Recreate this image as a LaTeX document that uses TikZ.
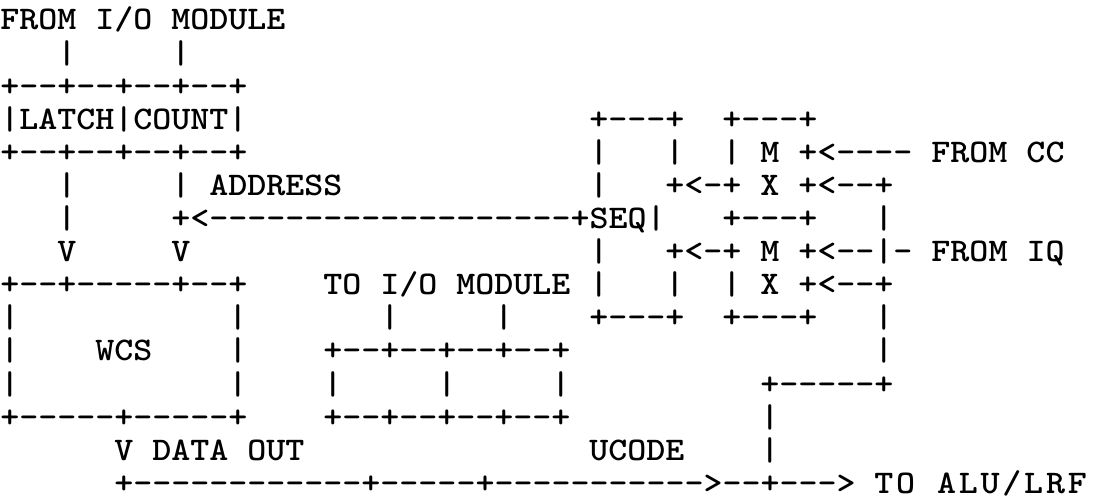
\documentclass[tikz,border=0pt]{standalone}
\usepackage{fontspec}
\setmonofont{lmmonolt10-bold.otf}[FakeStretch=1.097]

\begin{document}
\begin{tikzpicture}[
x=9.5pt, y=-16.55pt,
ascii/.style={anchor=base west, inner sep=0pt, font=\ttfamily\fontsize{16.5pt}{16.7pt}\selectfont},
wide/.style={ascii, font=\ttfamily\fontsize{16.5pt}{16.7pt}\selectfont\addfontfeature{LetterSpace=8.5}}
]
\useasboundingbox (0,0.094) rectangle (57.79,15.29);
% latch and count registers
\node[ascii] (fromio) at (0,1) {FROM I/O MODULE};
\node[ascii] (ina) at (3,2) {|};
\node[ascii] (inb) at (9,2) {|};
\node[ascii] (lctop) at (0,3) {+--+--+--+--+};
\node[ascii] (lc) at (0,4) {|LATCH|COUNT|};
\node[ascii] (lcbot) at (0,5) {+--+--+--+--+};
\node[ascii] (lcla) at (3,6) {|};
\node[ascii] (addr) at (9,6) {| ADDRESS};
\node[ascii] (lclb) at (3,7) {|};
\node[ascii] (addrline) at (9,7) {+<-------------------+SEQ|};
\node[ascii] (lcva) at (3,8) {V};
\node[ascii] (lcvb) at (9,8) {V};
% sequencer and muxes
\node[ascii] (seqtop) at (31,4) {+---+};
\node[ascii] (mxatop) at (38,4) {+---+};
\node[ascii] (seqa) at (31,5) {|};
\node[ascii] (seqb) at (35,5) {|};
\node[ascii] (mxa) at (38,5) {| M +<---- FROM CC};
\node[ascii] (seqc) at (31,6) {|};
\node[ascii] (mxaout) at (35,6) {+<-+ X +<--+};
\node[ascii] (mxabot) at (38,7) {+---+};
\node[ascii] (cca) at (46,7) {|};
\node[ascii] (seqd) at (31,8) {|};
\node[ascii] (mxb) at (35,8) {+<-+ M +<--|- FROM IQ};
\node[ascii] (seqe) at (35,9) {|};
\node[ascii] (mxbout) at (38,9) {| X +<--+};
\node[ascii] (seqbot) at (31,10) {+---+};
\node[ascii] (mxbbot) at (38,10) {+---+};
\node[ascii] (ccb) at (46,10) {|};
\node[ascii] (ccc) at (46,11) {|};
\node[ascii] (ccbox) at (40,12) {+-----+};
\node[ascii] (ccd) at (40,13) {|};
\node[ascii] (cce) at (40,14) {|};
% writable control store
\node[ascii] (wcstop) at (0,9) {+--+-----+--+};
\node[ascii] (toio) at (17,9) {TO I/O MODULE |};
\node[ascii] (wcsa) at (0,10) {|};
\node[ascii] (wcsb) at (12,10) {|};
\node[ascii] (outa) at (20,10) {|};
\node[ascii] (outb) at (26,10) {|};
\node[ascii] (wcsc) at (0,11) {|};
\node[ascii] (wcs) at (5,11) {WCS};
\node[ascii] (wcsd) at (12,11) {|};
\node[ascii] (ucodetop) at (17,11) {+--+--+--+--+};
\node[ascii] (wcse) at (0,12) {|};
\node[ascii] (wcsf) at (12,12) {|};
\node[ascii] (ucodea) at (17,12) {|};
\node[ascii] (ucodeb) at (23,12) {|};
\node[ascii] (ucodec) at (29,12) {|};
\node[ascii] (wcsbot) at (0,13) {+-----+-----+};
\node[ascii] (ucodebot) at (17,13) {+--+--+--+--+};
\node[ascii] (dataout) at (6,14) {V DATA OUT};
\node[ascii] (ucode) at (31,14) {UCODE};
\node[ascii] (alubus) at (6,15) {+------------+-----+----------->--+--->};
\node[wide] (alu) at (46,15) {TO ALU/LRF};
\end{tikzpicture}
\end{document}
